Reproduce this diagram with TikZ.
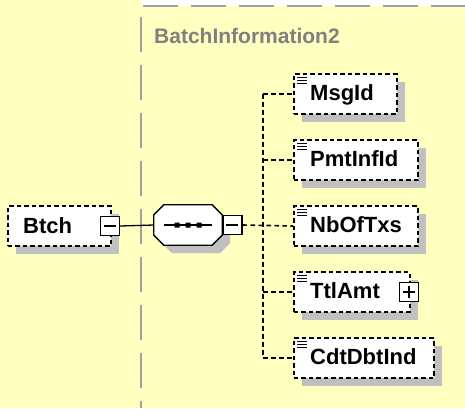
\documentclass[tikz,border=0pt]{standalone}
\usepackage{fontspec}
\setmainfont{Liberation Sans}
\usepackage{tikz}
\usetikzlibrary{positioning,calc}

\definecolor{bgyellow}{HTML}{FFFFC0}
\definecolor{shade}{HTML}{C0C0C0}
\definecolor{grpgray}{HTML}{A0A0A0}
\definecolor{titlegray}{HTML}{808080}

\tikzset{
    shadowed/.style={preaction={fill=shade, draw=none, transform canvas={xshift=8pt,yshift=-8pt}}},
    elem/.style={draw, line width=1.5pt, dash pattern=on 4.5pt off 3pt, fill=white, minimum height=40pt, inner sep=0pt, anchor=west, shadowed},
    elemname/.style={font=\fontsize{22pt}{26pt}\selectfont\bfseries, inner sep=0pt, anchor=base west},
    togbox/.style={draw, solid, line width=1.3pt, fill=white, minimum size=19pt, inner sep=0pt},
    minusbox/.style={togbox, path picture={
        \draw[line width=1.3pt] ([xshift=-6pt]path picture bounding box.center) -- ([xshift=6pt]path picture bounding box.center);}},
    plusbox/.style={togbox, path picture={
        \draw[line width=1.3pt] ([xshift=-6pt]path picture bounding box.center) -- ([xshift=6pt]path picture bounding box.center);
        \draw[line width=1.3pt] ([yshift=-6pt]path picture bounding box.center) -- ([yshift=6pt]path picture bounding box.center);}},
    conn/.style={line width=1.3pt},
    dconn/.style={line width=1.6pt, dash pattern=on 4.5pt off 3.5pt},
    grpline/.style={grpgray, line width=2pt, dash pattern=on 35pt off 13pt}
}

% small "content" mark in the top left corner of an element box
\newcommand{\elemicon}[1]{%
    \foreach \k in {4,7,10}
        \draw[line width=1.2pt] ([xshift=4pt,yshift=-\k pt]#1.north west) -- ++(10,0);}

\begin{document}
\begin{tikzpicture}[x=1pt, y=-1pt]
    \useasboundingbox (0,0) rectangle (465,408);
    \fill[bgyellow] (0,0) rectangle (465,408);

    % group frame
    \fill[white] (141,0) rectangle (465,6);
    \draw[grpline] (143,6) -- (465,6);
    \draw[grpline] (141,17) -- (141,408);
    \node[font=\fontsize{21pt}{25pt}\selectfont\bfseries, text=titlegray, inner sep=0pt, anchor=base west] (grptitle) at (154,43) {BatchInformation2};

    % Btch element
    \node[elem, minimum width=103pt] (btch) at (7,226) {};
    \node[elemname] (btchtxt) at ([xshift=16pt,yshift=-7pt]btch.west) {Btch};
    \node[minusbox] (btchtog) at ([xshift=-1.5pt]btch.east) {};

    % sequence compositor
    \node[minimum width=68pt, minimum height=40pt, inner sep=0pt] (seq) at (188,225) {};
    \draw[line width=1.3pt, fill=white, shadowed]
        ([xshift=10pt]seq.north west) -- ([xshift=-10pt]seq.north east)
        -- ([yshift=-10pt]seq.north east) -- ([yshift=10pt]seq.south east)
        -- ([xshift=-10pt]seq.south east) -- ([xshift=10pt]seq.south west)
        -- ([yshift=10pt]seq.south west) -- ([yshift=-10pt]seq.north west) -- cycle;
    \draw[line width=1.5pt] ([xshift=-24pt]seq.center) -- ([xshift=24pt]seq.center);
    \foreach \dx in {-11,0,11}
        \fill ([xshift=\dx pt]seq.center) rectangle +(2.5,2.5) rectangle +(-2.5,-2.5);
    \node[minusbox, right=0pt of seq] (seqtog) {};

    % children
    \node[elem, minimum width=103pt] (msgid) at (293,94) {};
    \node[elem, minimum width=124pt] (pmtinfid) at (293,160) {};
    \node[elem, minimum width=124pt] (nboftxs) at (293,226) {};
    \node[elem, minimum width=116pt] (ttlamt) at (293,292) {};
    \node[elem, minimum width=140pt] (cdtdbtind) at (293,358) {};

    \node[elemname] (msgidtxt) at ([xshift=17pt,yshift=-6.5pt]msgid.west) {MsgId};
    \node[elemname] (pmtinfidtxt) at ([xshift=17pt,yshift=-6.5pt]pmtinfid.west) {PmtInfId};
    \node[elemname] (nboftxstxt) at ([xshift=17pt,yshift=-6.5pt]nboftxs.west) {NbOfTxs};
    \node[elemname] (ttlamttxt) at ([xshift=17pt,yshift=-6.5pt]ttlamt.west) {TtlAmt};
    \node[elemname] (cdtdbtindtxt) at ([xshift=17pt,yshift=-6.5pt]cdtdbtind.west) {CdtDbtInd};
    \node[plusbox] (ttlamttog) at ([xshift=-1.5pt]ttlamt.east) {};

    \elemicon{msgid}
    \elemicon{pmtinfid}
    \elemicon{nboftxs}
    \elemicon{ttlamt}
    \elemicon{cdtdbtind}

    % connectors
    \coordinate (trunk) at (263,226);
    \draw[conn] (btchtog.east) -- (seq.west);
    \draw[dconn] (seqtog.east) -- (nboftxs.west);
    \draw[dconn] (msgid.west -| trunk) -- (cdtdbtind.west -| trunk);
    \foreach \c in {msgid,pmtinfid,ttlamt,cdtdbtind}
        \draw[dconn] (\c.west -| trunk) -- (\c.west);
\end{tikzpicture}
\end{document}
